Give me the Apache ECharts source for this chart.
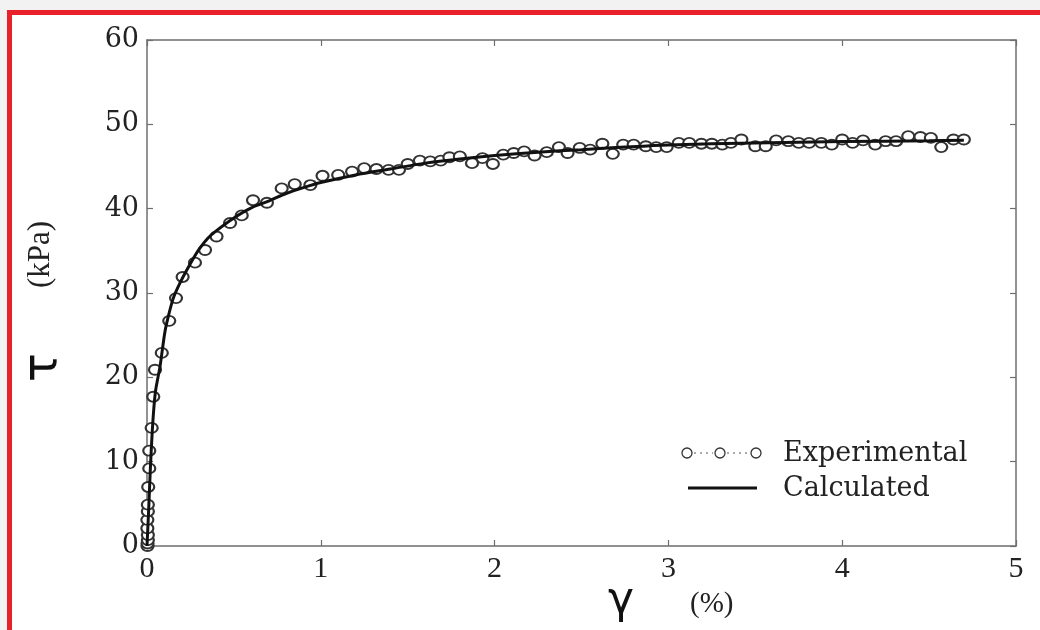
<!DOCTYPE html>
<html>
<head>
<meta charset="utf-8">
<script src="https://cdn.jsdelivr.net/npm/echarts@6/dist/echarts.min.js"></script>
<style>
html,body{margin:0;padding:0;background:#f2f2f2;}
#c{width:1040px;height:630px;}
</style>
</head>
<body>
<div id="c"></div>
<script>
// Experimental points (gamma %, tau kPa)
var expGamma = [0.003,0.003,0.005,0.005,0.002,0.002,0.005,0.005,0.007,0.013,0.013,0.027,0.036,0.046,
  0.085,0.128,0.167,0.205,0.276,0.334,0.40,0.478,0.545,0.61,0.69,0.775,0.85,0.94,
  1.01,1.10,1.18,1.25,1.32,1.39,1.45,1.50,1.57,1.63,1.69,1.74,1.80,1.87,1.93,1.99,
  2.05,2.11,2.17,2.23,2.30,2.37,2.42,2.49,2.55,2.62,2.68,2.74,2.80,2.87,2.93,2.99,
  3.06,3.12,3.19,3.25,3.31,3.36,3.42,3.50,3.56,3.62,3.69,3.75,3.81,3.88,3.94,
  4.00,4.06,4.12,4.19,4.25,4.31,4.38,4.45,4.51,4.57,4.64,4.70];
var expTau = [0,0.3,0.7,1.3,2.1,3.1,4.1,4.9,7.0,9.2,11.3,14.0,17.7,20.9,
  22.9,26.7,29.4,31.9,33.6,35.1,36.7,38.3,39.2,41.0,40.7,42.4,42.9,42.8,
  43.9,44.0,44.4,44.8,44.7,44.6,44.6,45.3,45.7,45.6,45.7,46.1,46.2,45.4,46.0,45.3,
  46.4,46.6,46.8,46.3,46.7,47.3,46.6,47.2,47.0,47.7,46.5,47.6,47.6,47.4,47.3,47.3,
  47.8,47.8,47.7,47.7,47.6,47.8,48.2,47.4,47.4,48.1,48.0,47.8,47.8,47.8,47.6,
  48.2,47.8,48.1,47.6,48.0,48.0,48.6,48.5,48.4,47.3,48.2,48.2];
// Calculated curve
var calcGamma = [0,0.01,0.02,0.03,0.04,0.05,0.075,0.1,0.113,0.15,0.19,0.25,0.3,0.35,0.4,0.5,0.6,0.7,0.8,0.9,1.0,1.2,1.4,1.6,1.8,2.0,2.25,2.5,2.75,3.0,3.5,4.0,4.5,4.7];
var calcTau = [0,4.5,9.5,13.5,16.5,18.5,21.3,25.0,26.4,29.3,31.2,33.5,35.2,36.5,37.4,38.9,40.1,40.9,41.8,42.5,43.1,44.0,44.7,45.4,45.9,46.3,46.7,47.0,47.3,47.55,47.8,47.95,48.05,48.1];
var xTicks = [0,1,2,3,4,5];
var yTicks = [0,10,20,30,40,50,60];
var seriesNames = ['Experimental','Calculated'];

function pairs(a,b){var r=[];for(var i=0;i<a.length;i++)r.push([a[i],b[i]]);return r;}

var axisColor = '#6e6e6e';
var serif = '"Liberation Serif", serif';
var wideSerif = '"DejaVu Serif", serif';
function mkAxis(pos, isX, showLabel){
  var ticks = isX ? xTicks : yTicks;
  return {
    type:'value', position:pos,
    min:ticks[0], max:ticks[ticks.length-1], interval:ticks[1]-ticks[0],
    axisLine:{show:true, onZero:false, lineStyle:{color:axisColor, width:1.5}},
    axisTick:{show:true, inside:true, length:6, lineStyle:{color:axisColor, width:1.2}},
    axisLabel:{show:showLabel, margin:8, fontFamily: isX ? serif : wideSerif, fontSize: isX ? 30 : 27, color:'#222'},
    splitLine:{show:false}
  };
}

var chart = echarts.init(document.getElementById('c'), null, {renderer:'canvas'});
chart.setOption({
  backgroundColor:'#f2f2f2',
  animation:false,
  grid:{left:147, right:24, top:40, bottom:84, containLabel:false},
  xAxis:[mkAxis('bottom',true,true), mkAxis('top',true,false)],
  yAxis:[mkAxis('left',false,true), mkAxis('right',false,false)],
  graphic:[
    {type:'rect', z:-10, shape:{x:9.5,y:12.5,width:1100,height:700}, style:{fill:'#ffffff', stroke:'#e8202a', lineWidth:5}},
    // axis names
    {type:'text', z:10, x:20, y:382, rotation:Math.PI/2, style:{text:'τ', font:'48px "DejaVu Sans", sans-serif', fill:'#111', textAlign:'left', textVerticalAlign:'top'}},
    {type:'text', z:10, x:25, y:288, rotation:Math.PI/2, style:{text:'(kPa)', font:'31px "Liberation Serif", serif', fill:'#222', textAlign:'left', textVerticalAlign:'top'}},
    {type:'text', z:10, x:608, y:580, style:{text:'γ', font:'44px "DejaVu Sans", sans-serif', fill:'#111'}},
    {type:'text', z:10, x:690, y:590, style:{text:'(%)', font:'29px "Liberation Serif", serif', fill:'#222'}},
    // legend
    {type:'circle', z:10, shape:{cx:687, cy:453, r:5}, style:{fill:'none', stroke:'#333', lineWidth:1.3}},
    {type:'circle', z:10, shape:{cx:720, cy:453, r:5}, style:{fill:'none', stroke:'#333', lineWidth:1.3}},
    {type:'circle', z:10, shape:{cx:756, cy:453, r:5}, style:{fill:'none', stroke:'#333', lineWidth:1.3}},
    {type:'line', z:10, shape:{x1:694, y1:453, x2:713, y2:453}, style:{stroke:'#555', lineWidth:1.2, lineDash:[2,4]}},
    {type:'line', z:10, shape:{x1:727, y1:453, x2:749, y2:453}, style:{stroke:'#555', lineWidth:1.2, lineDash:[2,4]}},
    {type:'text', z:10, x:783, y:454, style:{text:seriesNames[0], font:'27px "DejaVu Serif", serif', fill:'#222', textVerticalAlign:'middle'}},
    {type:'line', z:10, shape:{x1:688, y1:488, x2:757, y2:488}, style:{stroke:'#111', lineWidth:3}},
    {type:'text', z:10, x:783, y:489, style:{text:seriesNames[1], font:'27px "DejaVu Serif", serif', fill:'#222', textVerticalAlign:'middle'}}
  ],
  series:[
    {name:seriesNames[0], type:'scatter', data:pairs(expGamma,expTau), symbol:'emptyCircle', symbolSize:[12,10],
     itemStyle:{color:'#333', borderColor:'#333', borderWidth:1.3, opacity:1}, z:3},
    {name:seriesNames[1], type:'line', data:pairs(calcGamma,calcTau), smooth:0.3, showSymbol:false, symbol:'none',
     lineStyle:{color:'#111', width:3}, z:4}
  ]
});
</script>
</body>
</html>
